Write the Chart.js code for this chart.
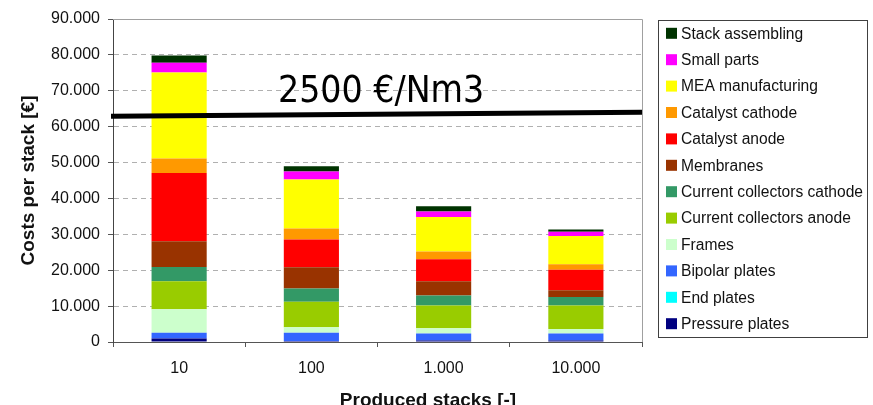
<!DOCTYPE html>
<html lang="en">
<head>
    <meta charset="UTF-8">
    <title>Costs per stack</title>
    <script src="https://cdn.jsdelivr.net/npm/chart.js@4.4.1/dist/chart.umd.min.js"></script>
    <style>
    body { margin: 0; background: #fff; }
    .chart-box { position: relative; width: 873px; height: 405px; }
    </style>
</head>
<body>
    <div class="chart-box">
        <canvas id="stackCostChart"></canvas>
    </div>

    <script>
        // produced stacks
        const categories = ['10', '100', '1.000', '10.000'];

        // cost components per stack [€], bottom to top
        const pressurePlates  = [950, 300, 450, 450];
        const endPlates       = [0, 0, 0, 0];
        const bipolarPlates   = [1650, 2300, 1900, 1900];
        const frames          = [6500, 1500, 1450, 1250];
        const ccAnode         = [7800, 7150, 6350, 6550];
        const ccCathode       = [4000, 3650, 2800, 2400];
        const membranes       = [7200, 5900, 3950, 1850];
        const catalystAnode   = [19000, 7750, 6150, 5700];
        const catalystCathode = [4000, 3050, 2150, 1550];
        const meaManufacture  = [24000, 13700, 9650, 7900];
        const smallParts      = [2700, 2200, 1500, 1150];
        const stackAssembling = [2000, 1500, 1500, 650];

        // 2500 €/Nm3 line, value at left and right edge of the plot
        const targetLine = [62900, 64000];
        const targetLabel = '2500 €/Nm3';

        const yMax = 90000;
        const yStep = 10000;

        const series = [
            ['Pressure plates', pressurePlates, '#000080'],
            ['End plates', endPlates, '#00ffff'],
            ['Bipolar plates', bipolarPlates, '#3366ff'],
            ['Frames', frames, '#ccffcc'],
            ['Current collectors anode', ccAnode, '#99cc00'],
            ['Current collectors cathode', ccCathode, '#339966'],
            ['Membranes', membranes, '#993300'],
            ['Catalyst anode', catalystAnode, '#ff0000'],
            ['Catalyst cathode', catalystCathode, '#ff9900'],
            ['MEA manufacturing', meaManufacture, '#ffff00'],
            ['Small parts', smallParts, '#ff00ff'],
            ['Stack assembling', stackAssembling, '#003300']
        ];

        const fmt = v => String(v).replace(/\B(?=(\d{3})+(?!\d))/g, '.');

        // grey frame on top and right of the plot
        const framePlugin = {
            id: 'frame',
            beforeDatasetsDraw(chart) {
                const { ctx, chartArea: a } = chart;
                ctx.save();
                ctx.strokeStyle = '#a0a0a0';
                ctx.lineWidth = 1;
                ctx.beginPath();
                ctx.moveTo(a.left, a.top + 0.5);
                ctx.lineTo(a.right + 0.5, a.top + 0.5);
                ctx.lineTo(a.right + 0.5, a.bottom);
                ctx.stroke();
                ctx.restore();
            }
        };

        // target line, its label, x title and the boxed legend
        const extrasPlugin = {
            id: 'extras',
            afterDraw(chart) {
                const { ctx, chartArea: a } = chart;
                const y = chart.scales.y;
                ctx.save();

                ctx.strokeStyle = '#000';
                ctx.lineWidth = 5;
                ctx.beginPath();
                ctx.moveTo(a.left - 2, y.getPixelForValue(targetLine[0]));
                ctx.lineTo(a.right, y.getPixelForValue(targetLine[1]));
                ctx.stroke();

                ctx.fillStyle = '#000';
                ctx.font = '37px "DejaVu Sans Condensed", "DejaVu Sans"';
                ctx.textBaseline = 'alphabetic';
                ctx.textAlign = 'left';
                ctx.fillText(targetLabel, 278, 102);

                ctx.fillStyle = '#111';
                ctx.font = 'bold 19px "Liberation Sans", Arial';
                ctx.textAlign = 'center';
                ctx.fillText('Produced stacks [-]', 428, 406);

                // legend
                ctx.strokeStyle = '#404040';
                ctx.lineWidth = 1;
                ctx.strokeRect(658.5, 20.5, 209, 317);
                ctx.font = '15.6px "Liberation Sans", Arial';
                ctx.textAlign = 'left';
                ctx.textBaseline = 'middle';
                const items = chart.data.datasets.slice().reverse();
                items.forEach((ds, i) => {
                    const cy = 33.3 + i * 26.4;
                    ctx.fillStyle = ds.backgroundColor;
                    ctx.fillRect(666, cy - 5.5, 11, 11);
                    ctx.fillStyle = '#111';
                    ctx.fillText(ds.label, 681, cy + 1);
                });
                ctx.restore();
            }
        };

        new Chart(document.getElementById('stackCostChart'), {
            type: 'bar',
            data: {
                labels: categories,
                datasets: series.map(([label, data, color]) => ({
                    label,
                    data,
                    backgroundColor: color,
                    borderWidth: 0
                }))
            },
            options: {
                responsive: true,
                maintainAspectRatio: false,
                animation: false,
                layout: { padding: { left: 0, top: 19, right: 231, bottom: 0 } },
                categoryPercentage: 1,
                barPercentage: 0.417,
                plugins: {
                    legend: { display: false },
                    tooltip: { enabled: false }
                },
                scales: {
                    x: {
                        stacked: true,
                        afterFit: s => { s.height = 63; },
                        grid: {
                            offset: true,
                            drawOnChartArea: false,
                            drawTicks: true,
                            tickLength: 5,
                            tickColor: '#555',
                            tickBorderDash: []
                        },
                        border: { color: '#555', width: 1 },
                        ticks: {
                            color: '#111',
                            padding: 12,
                            font: { size: 16, family: '"Liberation Sans", Arial' }
                        }
                    },
                    y: {
                        stacked: true,
                        min: 0,
                        max: yMax,
                        afterFit: s => { s.width = 113; },
                        grid: {
                            color: '#b0b0b0',
                            lineWidth: 1,
                            tickLength: 5,
                            tickColor: '#555',
                            tickBorderDash: []
                        },
                        border: { color: '#444', width: 1, dash: [5, 4] },
                        ticks: {
                            stepSize: yStep,
                            color: '#111',
                            padding: 8,
                            font: { size: 16, family: '"Liberation Sans", Arial' },
                            callback: v => fmt(v)
                        },
                        title: {
                            display: true,
                            text: 'Costs per stack [€]',
                            color: '#111',
                            padding: { top: 17, bottom: 0 },
                            font: { size: 19, weight: 'bold', family: '"Liberation Sans", Arial' }
                        }
                    }
                }
            },
            plugins: [framePlugin, extrasPlugin]
        });
    </script>
</body>
</html>
